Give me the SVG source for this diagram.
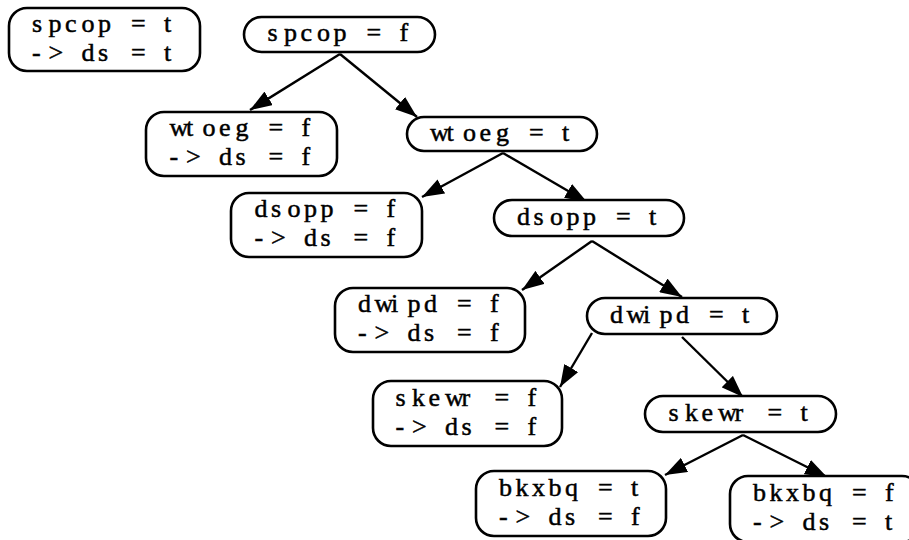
<svg xmlns="http://www.w3.org/2000/svg" width="909" height="540" viewBox="0 0 909 540">
<defs>
<style>
.n{fill:#fff;stroke:#000;stroke-width:2.6}
.e{stroke:#000;stroke-width:2.4;fill:none}
</style>
<marker id="ah" viewBox="0 0 22 16" refX="22" refY="8" markerWidth="22" markerHeight="16" markerUnits="userSpaceOnUse" orient="auto">
<path d="M0,0 L22,8 L0,16 z" fill="#000"/>
</marker>
</defs>
<rect width="909" height="540" fill="#fff"/>
<g id="edges">
<line class="e" x1="340" y1="54" x2="250" y2="110" marker-end="url(#ah)"/>
<line class="e" x1="340" y1="54" x2="417" y2="117" marker-end="url(#ah)"/>
<line class="e" x1="503" y1="153" x2="422" y2="197" marker-end="url(#ah)"/>
<line class="e" x1="503" y1="153" x2="587" y2="202" marker-end="url(#ah)"/>
<line class="e" x1="592" y1="241" x2="522" y2="290" marker-end="url(#ah)"/>
<line class="e" x1="592" y1="241" x2="682" y2="297" marker-end="url(#ah)"/>
<line class="e" x1="592" y1="333" x2="560" y2="387" marker-end="url(#ah)"/>
<line class="e" x1="682" y1="337" x2="743" y2="397" marker-end="url(#ah)"/>
<line class="e" x1="743" y1="435" x2="665" y2="475" marker-end="url(#ah)"/>
<line class="e" x1="743" y1="435" x2="827" y2="477" marker-end="url(#ah)"/>
</g>
<g font-family="Liberation Serif, serif" font-size="26" fill="#000" stroke="#000" stroke-width="0.5">
<g id="n1">
<rect class="n" x="9" y="8" width="191" height="63" rx="18"/>
<text x="32 48.5 65 81.5 98 114.5 131 147.5 164" y="32">spcop = t</text>
<text x="32 48.5 65 81.5 98 114.5 131 147.5 164" y="61">-&gt; ds = t</text>
</g>
<g id="n2">
<rect class="n" x="244" y="17" width="191" height="35" rx="17.5"/>
<text x="267.5 284 300.5 317 333.5 350 366.5 383 399.5" y="41">spcop = f</text>
</g>
<g id="n3">
<rect class="n" x="146" y="112" width="191" height="64" rx="18"/>
<text x="169.5 186 202.5 219 235.5 252 268.5 285 301.5" y="136">wtoeg = f</text>
<text x="169.5 186 202.5 219 235.5 252 268.5 285 301.5" y="165">-&gt; ds = f</text>
</g>
<g id="n4">
<rect class="n" x="407" y="117" width="190" height="34" rx="17"/>
<text x="430 446.5 463 479.5 496 512.5 529 545.5 562" y="141">wtoeg = t</text>
</g>
<g id="n5">
<rect class="n" x="231" y="193" width="191" height="64" rx="18"/>
<text x="254.5 271 287.5 304 320.5 337 353.5 370 386.5" y="217">dsopp = f</text>
<text x="254.5 271 287.5 304 320.5 337 353.5 370 386.5" y="246">-&gt; ds = f</text>
</g>
<g id="n6">
<rect class="n" x="494" y="200" width="190" height="36" rx="18"/>
<text x="517 533.5 550 566.5 583 599.5 616 632.5 649" y="225">dsopp = t</text>
</g>
<g id="n7">
<rect class="n" x="335" y="288" width="190" height="64" rx="18"/>
<text x="358 374.5 391 407.5 424 440.5 457 473.5 490" y="312">dwipd = f</text>
<text x="358 374.5 391 407.5 424 440.5 457 473.5 490" y="341">-&gt; ds = f</text>
</g>
<g id="n8">
<rect class="n" x="587" y="298" width="190" height="36" rx="18"/>
<text x="610 626.5 643 659.5 676 692.5 709 725.5 742" y="323">dwipd = t</text>
</g>
<g id="n9">
<rect class="n" x="373" y="381" width="189" height="65" rx="18"/>
<text x="395.5 412 428.5 445 461.5 478 494.5 511 527.5" y="406">skewr = f</text>
<text x="395.5 412 428.5 445 461.5 478 494.5 511 527.5" y="435">-&gt; ds = f</text>
</g>
<g id="n10">
<rect class="n" x="645" y="396" width="191" height="36" rx="18"/>
<text x="668.5 685 701.5 718 734.5 751 767.5 784 800.5" y="421">skewr = t</text>
</g>
<g id="n11">
<rect class="n" x="476" y="471" width="190" height="65" rx="18"/>
<text x="499 515.5 532 548.5 565 581.5 598 614.5 631" y="496">bkxbq = t</text>
<text x="499 515.5 532 548.5 565 581.5 598 614.5 631" y="525">-&gt; ds = f</text>
</g>
<g id="n12">
<rect class="n" x="730" y="476" width="190" height="66" rx="18"/>
<text x="753 769.5 786 802.5 819 835.5 852 868.5 885" y="501">bkxbq = f</text>
<text x="753 769.5 786 802.5 819 835.5 852 868.5 885" y="530">-&gt; ds = t</text>
</g>
</g>
</svg>
